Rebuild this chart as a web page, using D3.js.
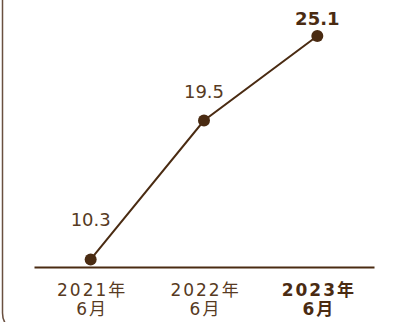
<!DOCTYPE html>
<html>
<head>
<meta charset="utf-8">
<script src="https://cdn.jsdelivr.net/npm/d3@7"></script>
<style>
  html, body { margin: 0; padding: 0; background: #fff; }
  svg { display: block; }
  text { font-family: "DejaVu Sans", "Noto Sans CJK JP", sans-serif; }
</style>
</head>
<body>
<div id="chart"></div>
<script>
const categories = ["2021年6月", "2022年6月", "2023年6月"];
const yearLabels = ["2021年", "2022年", "2023年"];
const monthLabels = ["6月", "6月", "6月"];
const values = [10.3, 19.5, 25.1];
const highlightIndex = 2;

const W = 396, H = 322;
const color = "#4a2b12";
const textColor = "#573a22";

const svg = d3.select("#chart").append("svg")
  .attr("width", W).attr("height", H);

// left frame line with rounded bottom corner
svg.append("path")
  .attr("d", "M2.5,0 V313 Q2.5,320 6,324")
  .attr("fill", "none")
  .attr("stroke", "#6a5040")
  .attr("stroke-width", 1.5);

const x = d3.scalePoint().domain(categories).range([34, 374]).padding(0.5);
const y = d3.scaleLinear().domain([9.8, 25.1]).range([267, 36]);

// baseline axis
const xAxis = svg.append("g")
  .attr("transform", "translate(0,267)")
  .call(d3.axisBottom(x).tickSize(0).tickFormat(""));
xAxis.select(".domain").attr("stroke", color).attr("stroke-width", 2);

// tick labels (two lines)
const ticks = xAxis.selectAll(".tick");
ticks.each(function(d, i) {
  const g = d3.select(this);
  g.select("text").remove();
  const bold = i === highlightIndex;
  const t = g.append("text")
    .attr("text-anchor", "middle")
    .attr("fill", bold ? color : textColor)
    .style("font-size", "17px")
    .style("font-weight", bold ? "bold" : "normal")
    .style("letter-spacing", "2px");
  t.append("tspan").attr("x", 1).attr("y", 29).text(yearLabels[i]);
  t.append("tspan").attr("x", 1).attr("y", 48).text(monthLabels[i]);
});

// line
const line = d3.line()
  .x((d, i) => x(categories[i]))
  .y(d => y(d));
svg.append("path")
  .datum(values)
  .attr("d", line)
  .attr("fill", "none")
  .attr("stroke", color)
  .attr("stroke-width", 2);

// points
svg.selectAll("circle.pt")
  .data(values)
  .join("circle")
  .attr("class", "pt")
  .attr("cx", (d, i) => x(categories[i]))
  .attr("cy", d => y(d))
  .attr("r", 6)
  .attr("fill", color);

// value labels
const labelOffsets = [-33, -23, -11];
svg.selectAll("text.val")
  .data(values)
  .join("text")
  .attr("class", "val")
  .attr("x", (d, i) => x(categories[i]))
  .attr("y", (d, i) => y(d) + labelOffsets[i])
  .attr("text-anchor", "middle")
  .attr("fill", (d, i) => i === highlightIndex ? color : textColor)
  .style("font-size", "18px")
  .style("font-weight", (d, i) => i === highlightIndex ? "bold" : "normal")
  .text(d => d.toFixed(1));
</script>
</body>
</html>
